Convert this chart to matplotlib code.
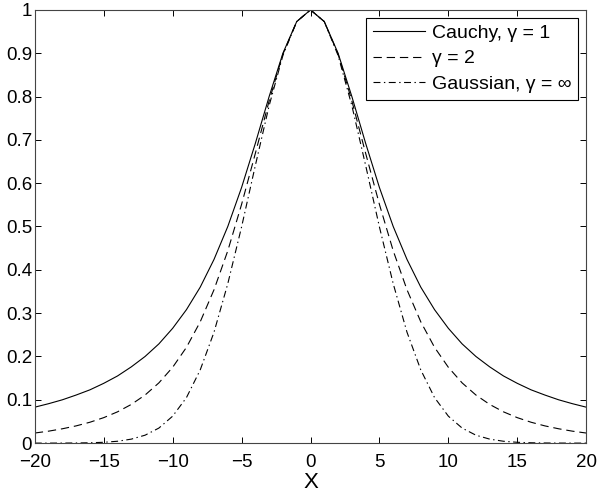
import matplotlib
matplotlib.use("Agg")
import matplotlib.pyplot as plt
from matplotlib.ticker import FormatStrFormatter

plt.rcParams['font.family'] = ['Liberation Sans', 'DejaVu Sans']
plt.rcParams['lines.scale_dashes'] = False

# x sampled at integers, -20..20
x = list(range(-20, 21))

# Cauchy, gamma = 1
cauchy = [0.083, 0.091, 0.100, 0.111, 0.123, 0.138, 0.155, 0.176, 0.200, 0.229,
          0.265, 0.308, 0.360, 0.424, 0.500, 0.590, 0.692, 0.800, 0.900, 0.973,
          1.000,
          0.973, 0.900, 0.800, 0.692, 0.590, 0.500, 0.424, 0.360, 0.308, 0.265,
          0.229, 0.200, 0.176, 0.155, 0.138, 0.123, 0.111, 0.100, 0.091, 0.083]

# gamma = 2
gamma2 = [0.0233, 0.0276, 0.0331, 0.0398, 0.0482, 0.0588, 0.0722, 0.0893, 0.111, 0.139,
          0.175, 0.221, 0.280, 0.354, 0.444, 0.551, 0.669, 0.790, 0.898, 0.973,
          1.000,
          0.973, 0.898, 0.790, 0.669, 0.551, 0.444, 0.354, 0.280, 0.221, 0.175,
          0.139, 0.111, 0.0893, 0.0722, 0.0588, 0.0482, 0.0398, 0.0331, 0.0276, 0.0233]

# Gaussian, gamma = inf
gauss = [0.00002, 0.00004, 0.00012, 0.00033, 0.00082, 0.0019, 0.0043, 0.0092, 0.0183, 0.0347,
         0.0622, 0.105, 0.169, 0.256, 0.368, 0.499, 0.641, 0.779, 0.895, 0.973,
         1.000,
         0.973, 0.895, 0.779, 0.641, 0.499, 0.368, 0.256, 0.169, 0.105, 0.0622,
         0.0347, 0.0183, 0.0092, 0.0043, 0.0019, 0.00082, 0.00033, 0.00012, 0.00004, 0.00002]

labels = ['Cauchy, γ = 1', 'γ = 2', 'Gaussian, γ = ∞']

fig = plt.figure(figsize=(6, 4.94), dpi=100)
ax = fig.add_axes([0.058, 0.103, 0.919, 0.877])

ax.plot(x, cauchy, color='black', lw=0.8, linestyle='-', label=labels[0])
ax.plot(x, gamma2, color='black', lw=0.8, dashes=(6, 3.5), label=labels[1])
ax.plot(x, gauss, color='black', lw=0.8, dashes=(5, 2.5, 1, 2.5), label=labels[2])

ax.set_xlim(-20, 20)
ax.set_ylim(0, 1)
ax.set_xticks(range(-20, 21, 5))
ax.set_yticks([i / 10 for i in range(11)])
ax.yaxis.set_major_formatter(FormatStrFormatter('%g'))
ax.tick_params(direction='in', top=True, right=True, length=4, width=0.7,
               labelsize=13.5)
ax.tick_params(axis='x', pad=8)
ax.tick_params(axis='y', pad=2)
for s in ax.spines.values():
    s.set_linewidth(0.8)
    s.set_color('#444444')

ax.set_xlabel('X', fontsize=16, labelpad=0.5)

leg = ax.legend(loc='upper right', fontsize=14, handlelength=2.7,
                handletextpad=0.35, labelspacing=0.4, borderaxespad=0.4,
                borderpad=0.35, fancybox=False, framealpha=1)
leg.get_frame().set_edgecolor('black')
leg.get_frame().set_linewidth(0.8)

fig.savefig('out.png', dpi=100)
